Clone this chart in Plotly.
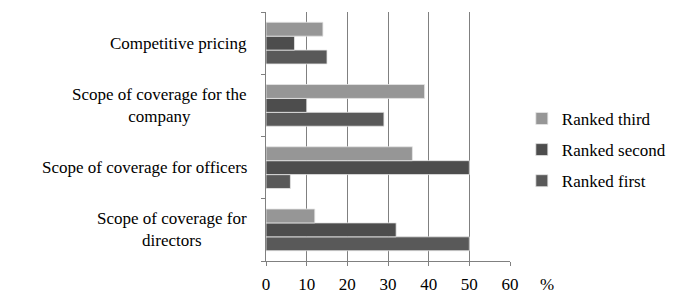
import plotly.graph_objects as go

categories = ["Scope of coverage for directors", "Scope of coverage for officers",
              "Scope of coverage for the company", "Competitive pricing"]
category_labels = ["Scope of coverage for<br>directors", "Scope of coverage for officers",
                   "Scope of coverage for the<br>company", "Competitive pricing"]
ranked_first = [50, 6, 29, 15]
ranked_second = [32, 50, 10, 7]
ranked_third = [12, 36, 39, 14]
x_ticks = [0, 10, 20, 30, 40, 50, 60]

FONT = "Liberation Serif"

fig = go.Figure()
series = [("Ranked first", ranked_first, "#595959", 3),
          ("Ranked second", ranked_second, "#4d4d4d", 2),
          ("Ranked third", ranked_third, "#969696", 1)]
for i, (name, vals, col, rank) in enumerate(series):
    fig.add_trace(go.Bar(y=categories, x=vals, name=name, orientation="h", legendgroup=f"g{i}",
                         legendrank=rank,
                         marker=dict(color=col, line=dict(color="#e6e6e6", width=0.8))))

for cat, lab in zip(categories, category_labels):
    fig.add_annotation(x=0, xref="paper", y=cat, yref="y", text=lab, showarrow=False,
                       xanchor="right", yanchor="middle", xshift=-17, align="center",
                       font=dict(family=FONT, size=17, color="#000"))

fig.add_annotation(x=1, xref="paper", y=0, yref="paper", text="%", showarrow=False,
                   xanchor="left", yanchor="top", xshift=28, yshift=-12,
                   font=dict(family=FONT, size=17, color="#000"))

fig.update_layout(
    width=684, height=293,
    margin=dict(l=266, r=174, t=12, b=32, autoexpand=False),
    barmode="group", bargap=0.33, bargroupgap=0,
    plot_bgcolor="white", paper_bgcolor="white",
    font=dict(family=FONT, size=17, color="#000"),
    showlegend=True,
    legend=dict(traceorder="grouped", x=1.0485, xanchor="left", y=0.446, yanchor="middle",
                font=dict(family=FONT, size=17), itemwidth=30, tracegroupgap=6,
                bgcolor="rgba(0,0,0,0)"),
    xaxis=dict(range=[0, 60], tickvals=x_ticks, showgrid=True, gridcolor="#808080", gridwidth=1.2,
               showline=True, linecolor="#808080", linewidth=1.2, ticks="outside", ticklen=4,
               tickcolor="#808080", zeroline=False, tickfont=dict(family=FONT, size=17),
               ticklabelstandoff=3),
    yaxis=dict(showticklabels=False, showline=True, linecolor="#808080", linewidth=1.2,
               ticks="outside", tickson="boundaries", ticklen=4, tickcolor="#808080",
               showgrid=False),
)

fig.write_html("out.html", config={"displayModeBar": False},
               post_script="document.body.style.margin='0';")
